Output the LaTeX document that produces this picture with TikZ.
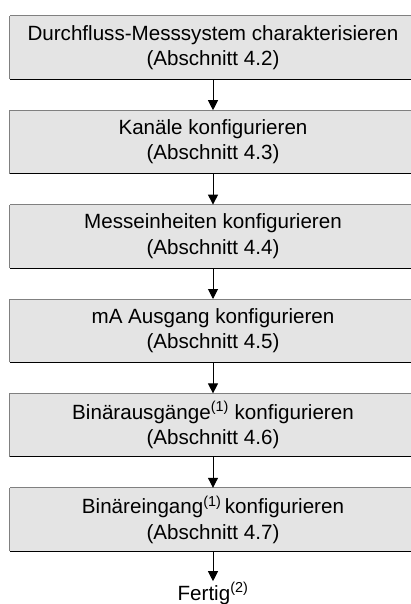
\documentclass[tikz,border=0pt]{standalone}
\usepackage{fontspec}
\setmainfont{Liberation Sans}
\usetikzlibrary{positioning,arrows.meta}
\definecolor{boxfill}{HTML}{E4E4E4}
\tikzset{stepbox/.style={fill=boxfill, minimum width=406pt, minimum height=63pt,
    align=center, font=\fontsize{20.6}{25.5}\selectfont, inner sep=0pt,
    append after command={
      (\tikzlastnode.south west) edge[black!50,line width=0.9pt] (\tikzlastnode.north west)
      (\tikzlastnode.north west) edge[black!50,line width=0.9pt] (\tikzlastnode.north east)
      (\tikzlastnode.south west) edge[black,line width=0.9pt] (\tikzlastnode.south east)
      (\tikzlastnode.south east) edge[black,line width=0.9pt] (\tikzlastnode.north east)}},
  flow/.style={-{Triangle[width=10pt,length=10pt]}, line width=1pt},
  endtext/.style={font=\fontsize{20.6}{25}\selectfont, inner sep=1pt}}

\begin{document}
\begin{tikzpicture}[node distance=31pt]
    \useasboundingbox (0,0) rectangle (411pt,-604pt);
    \node[stepbox] (s1) at (213pt,-47.5pt) {Durchfluss-Messsystem charakterisieren\\(Abschnitt 4.2)};
    \node[stepbox,below=of s1] (s2) {Kanäle konfigurieren\\(Abschnitt 4.3)};
    \node[stepbox,below=of s2] (s3) {Messeinheiten konfigurieren\\(Abschnitt 4.4)};
    \node[stepbox,below=of s3] (s4) {mA Ausgang konfigurieren\\(Abschnitt 4.5)};
    \node[stepbox,below=of s4] (s5) {Binärausgänge\textsuperscript{(1)} konfigurieren\\(Abschnitt 4.6)};
    \node[stepbox,below=of s5] (s6) {Binäreingang\textsuperscript{(1)}\,konfigurieren\\(Abschnitt 4.7)};
    \node[endtext,below=30pt of s6] (done) {Fertig\textsuperscript{(2)}};
    \path[flow]
      (s1) edge (s2)
      (s2) edge (s3)
      (s3) edge (s4)
      (s4) edge (s5)
      (s5) edge (s6)
      (s6) edge (done);
\end{tikzpicture}
\end{document}
